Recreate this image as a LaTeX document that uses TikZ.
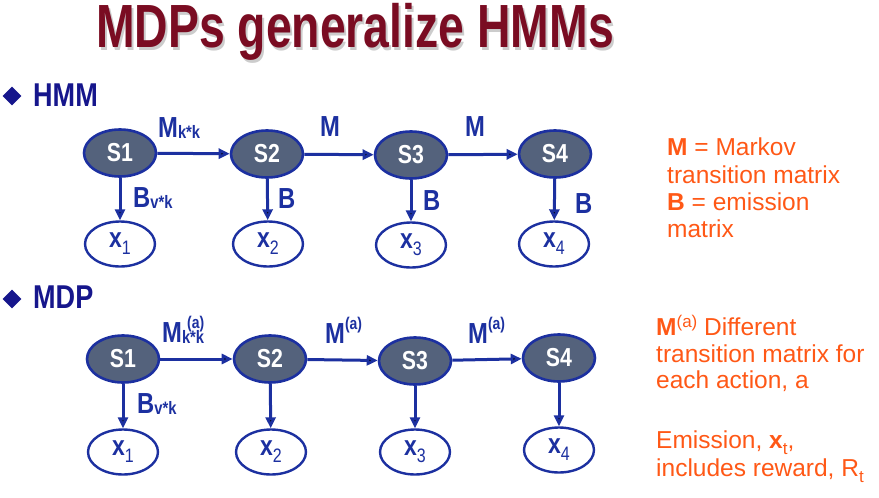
\documentclass[tikz,border=0pt]{standalone}
\usepackage{fontspec}
\setmainfont{Liberation Sans}
\newfontfamily\narrowfont[FakeStretch=0.82]{Liberation Sans}
\newfontfamily\titlefont[FakeStretch=0.76]{Liberation Sans}
\usetikzlibrary{shapes.geometric,arrows.meta}

\definecolor{titlered}{RGB}{122,12,34}
\definecolor{headnavy}{RGB}{22,22,140}
\definecolor{linkblue}{RGB}{28,48,160}
\definecolor{stategray}{RGB}{84,98,124}
\definecolor{noteorange}{RGB}{255,88,22}

\newcommand{\fs}[1]{\fontsize{#1}{#1}\selectfont}
\newcommand{\labsub}[1]{\raisebox{-1pt}{\fs{18}#1}}
\newcommand{\labsup}[1]{\raisebox{14pt}{\fs{17}#1}}
\newcommand{\obssub}[1]{\raisebox{-7pt}{\mdseries\fs{19.5}#1}}
\newcommand{\notesub}[1]{\raisebox{-6pt}{\fs{17}#1}}
\newcommand{\notesup}[1]{\raisebox{8pt}{\fs{17}#1}}

\begin{document}
\begin{tikzpicture}[x=1pt, y=-1pt,
    hidden/.style={ellipse, draw=linkblue, line width=2.6pt, fill=stategray, minimum width=72pt, minimum height=47pt, inner sep=0pt, text=white, font=\narrowfont\bfseries\fs{26}},
    observed/.style={ellipse, draw=linkblue, line width=2.4pt, fill=white, minimum width=70pt, minimum height=45pt, inner sep=0pt, text=linkblue, font=\narrowfont\bfseries\fs{28}},
    flow/.style={-{Triangle[length=11pt,width=10pt]}, line width=3pt, draw=linkblue},
    edgelabel/.style={anchor=base west, inner sep=0pt, text=linkblue, font=\narrowfont\bfseries\fs{29}},
    heading/.style={anchor=base west, inner sep=0pt, text=headnavy, font=\narrowfont\bfseries\fs{33}},
    bullet/.style={diamond, fill=headnavy, minimum width=19pt, minimum height=19pt, inner sep=0pt},
    note/.style={anchor=base west, inner sep=0pt, text=noteorange, font=\fs{24.5}}]

    \useasboundingbox (0,0) rectangle (879,498);

    % Title
    \node[anchor=base, inner sep=0pt, text=gray!40, font=\titlefont\bfseries\fs{61}] at (357, 50) (titleshadow) {MDPs generalize HMMs};
    \node[anchor=base, inner sep=0pt, text=titlered, font=\titlefont\bfseries\fs{61}] at (355, 47) (title) {MDPs generalize HMMs};

    % HMM
    \node[bullet] at (12, 96) (hmmbullet) {};
    \node[heading] at (33, 106) (hmmhead) {HMM};

    \node[hidden] at (120, 153) (hs1) {S1};
    \node[hidden] at (267, 154) (hs2) {S2};
    \node[hidden] at (411, 155) (hs3) {S3};
    \node[hidden] at (555, 154) (hs4) {S4};
    \node[observed] at (120, 244) (hx1) {x\obssub{1}};
    \node[observed] at (268, 244) (hx2) {x\obssub{2}};
    \node[observed] at (411, 245) (hx3) {x\obssub{3}};
    \node[observed] at (554, 244) (hx4) {x\obssub{4}};

    \draw[flow] (hs1) edge (hs2);
    \draw[flow] (hs2) edge (hs3);
    \draw[flow] (hs3) edge (hs4);
    \draw[flow] (hs1) edge (hx1);
    \draw[flow] (hs2) edge (hx2);
    \draw[flow] (hs3) edge (hx3);
    \draw[flow] (hs4) edge (hx4);

    \node[edgelabel] at (158, 137) (hm1) {M\labsub{k*k}};
    \node[edgelabel] at (320, 136) (hm2) {M};
    \node[edgelabel] at (465, 136) (hm3) {M};
    \node[edgelabel] at (133, 207) (hb1) {B\labsub{v*k}};
    \node[edgelabel] at (278, 208) (hb2) {B};
    \node[edgelabel] at (423, 210) (hb3) {B};
    \node[edgelabel] at (575, 213) (hb4) {B};

    % MDP
    \node[bullet] at (12, 299) (mdpbullet) {};
    \node[heading] at (33, 308) (mdphead) {MDP};

    \node[hidden] at (123, 359) (ms1) {S1};
    \node[hidden] at (270, 359) (ms2) {S2};
    \node[hidden] at (415, 361) (ms3) {S3};
    \node[hidden] at (559, 358) (ms4) {S4};
    \node[observed] at (123, 452) (mx1) {x\obssub{1}};
    \node[observed] at (271, 452) (mx2) {x\obssub{2}};
    \node[observed] at (415, 452) (mx3) {x\obssub{3}};
    \node[observed] at (559, 450) (mx4) {x\obssub{4}};

    \draw[flow] (ms1) edge (ms2);
    \draw[flow] (ms2) edge (ms3);
    \draw[flow] (ms3) edge (ms4);
    \draw[flow] (ms1) edge (mx1);
    \draw[flow] (ms2) edge (mx2);
    \draw[flow] (ms3) edge (mx3);
    \draw[flow] (ms4) edge (mx4);

    \node[edgelabel] at (162, 342) (mm1) {M\labsub{k*k}\llap{\labsup{(a)}}};
    \node[edgelabel] at (325, 343) (mm2) {M\labsup{(a)}};
    \node[edgelabel] at (468, 343) (mm3) {M\labsup{(a)}};
    \node[edgelabel] at (137, 413) (mb1) {B\labsub{v*k}};

    % Notes
    \node[note] at (667, 155) (hmmnote1) {\textbf{M} = Markov};
    \node[note] at (667, 183) (hmmnote2) {transition matrix};
    \node[note] at (667, 210) (hmmnote3) {\textbf{B} = emission};
    \node[note] at (667, 237) (hmmnote4) {matrix};

    \node[note] at (656, 335) (mdpnote1) {\textbf{M}\notesup{(a)} Different};
    \node[note] at (656, 362) (mdpnote2) {transition matrix for};
    \node[note] at (656, 388) (mdpnote3) {each action, a};
    \node[note] at (656, 448) (mdpnote4) {Emission, \textbf{x}\notesub{t},};
    \node[note] at (656, 476) (mdpnote5) {includes reward, R\notesub{t}};

\end{tikzpicture}
\end{document}
